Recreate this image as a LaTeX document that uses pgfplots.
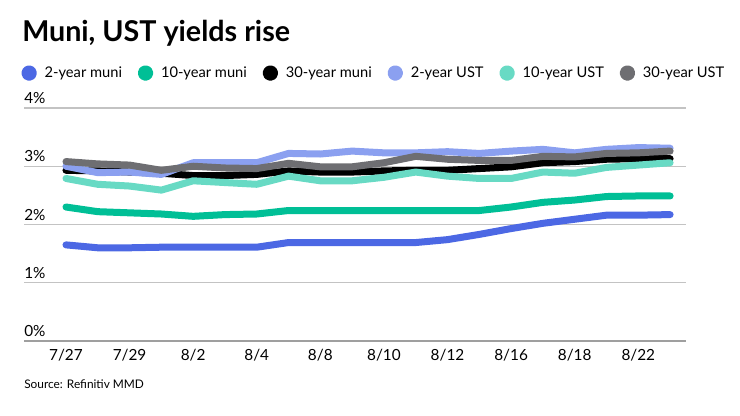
\documentclass[border=0pt]{standalone}
\usepackage{fontspec}
\setmainfont{Lato}
\usepackage{pgfplots}
\usepackage{pgfplotstable}
\pgfplotsset{compat=1.18}

\definecolor{muniTwo}{RGB}{76,104,228}
\definecolor{muniTen}{RGB}{0,191,150}
\definecolor{muniThirty}{RGB}{0,0,0}
\definecolor{ustTwo}{RGB}{139,160,240}
\definecolor{ustTen}{RGB}{104,218,196}
\definecolor{ustThirty}{RGB}{110,110,114}
\definecolor{gridgray}{RGB}{195,195,195}

% i = business day index, 7/27 .. 8/23
\pgfplotstableread{
i  m2    m10   m30   u2    u10   u30
0  1.65  2.30  2.93  3.00  2.79  3.08
1  1.60  2.22  2.92  2.89  2.69  3.04
2  1.60  2.20  2.90  2.90  2.66  3.02
3  1.61  2.18  2.88  2.86  2.59  2.93
4  1.61  2.14  2.84  3.06  2.75  3.00
5  1.61  2.17  2.84  3.06  2.72  2.97
6  1.61  2.18  2.86  3.06  2.69  2.96
7  1.69  2.24  2.92  3.22  2.83  3.05
8  1.69  2.24  2.90  3.21  2.75  2.99
9  1.69  2.24  2.90  3.26  2.75  2.99
10 1.69  2.24  2.92  3.23  2.81  3.06
11 1.69  2.24  2.93  3.23  2.90  3.17
12 1.74  2.24  2.93  3.25  2.83  3.12
13 1.83  2.24  2.96  3.22  2.79  3.10
14 1.93  2.30  2.99  3.26  2.79  3.10
15 2.02  2.38  3.06  3.29  2.90  3.17
16 2.09  2.42  3.08  3.23  2.88  3.16
17 2.16  2.48  3.12  3.29  2.98  3.22
18 2.16  2.49  3.13  3.32  3.02  3.23
19 2.17  2.49  3.13  3.31  3.06  3.26
}\yields

\begin{document}
\begin{tikzpicture}
\path[use as bounding box] (0,0) rectangle (555pt,312pt);
\node[anchor=base west, inner sep=0pt, font=\fontsize{21.5}{24}\selectfont\bfseries] at (16.5pt,281pt) {Muni, UST yields rise};
\node[anchor=west, inner sep=0pt, font=\fontsize{8.9}{10}\selectfont] at (18pt,24pt) {Source: Refinitiv MMD};
\begin{axis}[
  at={(18pt,56.25pt)}, anchor=south west,
  scale only axis, width=496.5pt, height=174.75pt,
  xmin=-1.32, xmax=19.5, ymin=0, ymax=4,
  axis line style={draw=none},
  clip=false,
  ytick={0,1,2,3,4}, yticklabels={0\%,1\%,2\%,3\%,4\%},
  xtick={0,2,...,18},
  xticklabels={7/27,7/29,8/2,8/4,8/8,8/10,8/12,8/16,8/18,8/22},
  major tick length=0pt,
  ymajorgrids, grid style={gridgray, line width=0.8pt},
  tick label style={font=\fontsize{11.5}{13}\selectfont},
  yticklabel style={anchor=south west, inner sep=0pt, xshift=0pt, yshift=3pt},
  xticklabel style={anchor=north, inner sep=0pt, yshift=-6pt},
  legend columns=6,
  legend style={at={(-0.006,1.15)}, anchor=west, draw=none, fill=none,
    font=\fontsize{11}{13}\selectfont, inner sep=0pt,
    /tikz/every even column/.append style={column sep=9pt}},
  legend image code/.code={\fill[#1] (4pt,0) circle (3.2pt); \path (0,0) (11pt,0);},
  every axis plot/.append style={line width=5.25pt, line cap=round, line join=round},
]
\draw[gray!75, line width=0.8pt] (axis cs:-1.32,0) -- (axis cs:19.5,0);
\addplot[muniTwo] table[x=i, y=m2] {\yields};
\addlegendentry{2-year muni}
\addplot[muniTen] table[x=i, y=m10] {\yields};
\addlegendentry{10-year muni}
\addplot[muniThirty] table[x=i, y=m30] {\yields};
\addlegendentry{30-year muni}
\addplot[ustTwo] table[x=i, y=u2] {\yields};
\addlegendentry{2-year UST}
\addplot[ustTen] table[x=i, y=u10] {\yields};
\addlegendentry{10-year UST}
\addplot[ustThirty] table[x=i, y=u30] {\yields};
\addlegendentry{30-year UST}
\end{axis}
\end{tikzpicture}
\end{document}
